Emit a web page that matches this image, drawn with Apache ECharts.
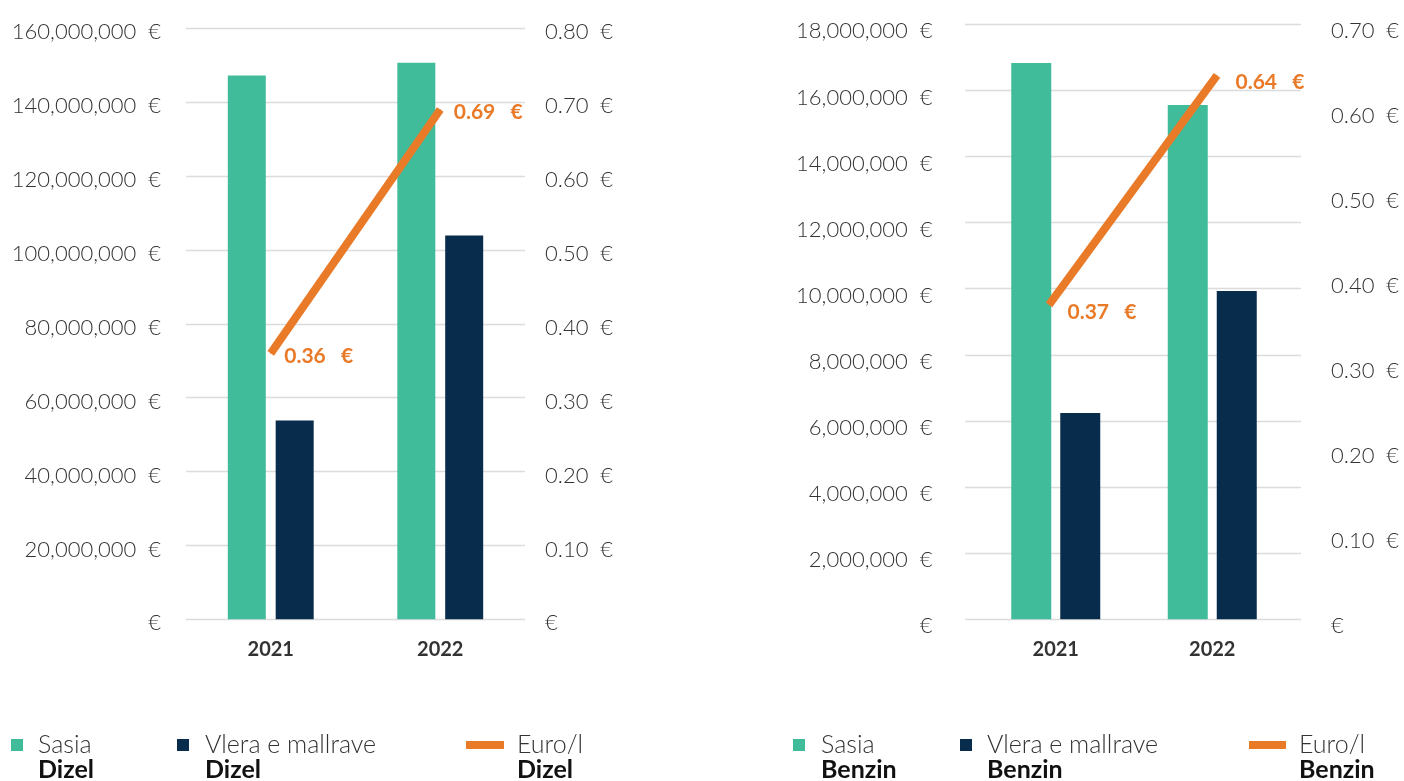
<!DOCTYPE html>
<html>
<head>
<meta charset="utf-8">
<script src="https://cdn.jsdelivr.net/npm/echarts@6/dist/echarts.min.js"></script>
<style>
html,body{margin:0;padding:0;background:#fff;}
#chart{width:1404px;height:781px;}
</style>
</head>
<body>
<div id="chart"></div>
<script>
// ---- data ----
const categories = ['2021', '2022'];
const dizelSasia = [147200000, 150700000];
const dizelVlera = [53800000, 103900000];
const dizelEuroL = [0.36, 0.69];
const benzinSasia = [16830000, 15560000];
const benzinVlera = [6240000, 9930000];
const benzinEuroL = [0.37, 0.64];
const dizelAmountAxis = { min: 0, max: 160000000, interval: 20000000 };
const dizelPriceAxis = { min: 0, max: 0.8, interval: 0.1 };
const benzinAmountAxis = { min: 0, max: 18000000, interval: 2000000 };
const benzinPriceAxis = { min: 0, max: 0.7, interval: 0.1 };
const seriesNames = ['Sasia', 'Vlera e mallrave', 'Euro/l'];
const fuels = ['Dizel', 'Benzin'];

// ---- style ----
const GREEN = '#40BC9B';
const NAVY = '#082C4C';
const ORANGE = '#E97A28';
const TEXT = '#333333';
const GRID = '#dcdcdc';
const FONT = 'Lato';

const amountFmt = v => v === 0 ? '€' : v.toLocaleString('en-US') + '  €';
const priceFmt = v => v === 0 ? '€' : v.toFixed(2) + '  €';

const yLabel = (fmt, margin, lh) => ({
  show: true, formatter: fmt, margin: margin, fontFamily: FONT, fontWeight: 300,
  fontSize: 22, color: TEXT, verticalAlign: 'top', lineHeight: lh
});
const xLabel = { fontFamily: FONT, fontWeight: 'bold', fontSize: 20, color: TEXT, margin: 20 };

function legend(name, fuel, left, w, h, pad) {
  return {
    left: left, top: 732.5, padding: 0, icon: 'rect', itemWidth: w, itemHeight: h,
    selectedMode: false, data: [name + ' ' + fuel],
    formatter: n => '{a|' + n.slice(0, n.lastIndexOf(' ')) + '}\n{b|' + n.slice(n.lastIndexOf(' ') + 1) + '}',
    textStyle: {
      padding: [25, 0, 0, pad], fontFamily: FONT, fontSize: 25, color: TEXT,
      rich: {
        a: { fontFamily: FONT, fontWeight: 300, fontSize: 25, lineHeight: 25, color: TEXT },
        b: { fontFamily: FONT, fontWeight: 'bold', fontSize: 25, lineHeight: 25, color: '#111' }
      }
    }
  };
}

const lineLabel = (dist, off) => ({
  show: true, position: 'right', distance: dist, offset: [0, off],
  formatter: p => p.value.toFixed(2) + '   €',
  fontFamily: FONT, fontWeight: 'bold', fontSize: 21, color: ORANGE
});

const option = {
  animation: false,
  backgroundColor: '#fff',
  grid: [
    { left: 186, top: 28.3, width: 339, height: 591 },
    { left: 977.5, top: 24.3, width: 313, height: 595 },
    { left: 965, top: 24.3, width: 336, height: 595 }
  ],
  xAxis: [
    { type: 'category', gridIndex: 0, data: categories, axisLine: { show: false }, axisTick: { show: false }, axisLabel: xLabel },
    { type: 'category', gridIndex: 1, data: categories, axisLine: { show: false }, axisTick: { show: false }, axisLabel: xLabel },
    { type: 'category', gridIndex: 2, data: categories, show: false }
  ],
  yAxis: [
    { type: 'value', gridIndex: 0, position: 'left', ...dizelAmountAxis, axisLine: { show: false }, axisTick: { show: false },
      splitLine: { show: true, lineStyle: { color: GRID, width: 1.3 } }, axisLabel: yLabel(amountFmt, 25, 8) },
    { type: 'value', gridIndex: 0, position: 'right', ...dizelPriceAxis, axisLine: { show: false }, axisTick: { show: false },
      splitLine: { show: false }, axisLabel: yLabel(priceFmt, 20, 8) },
    { type: 'value', gridIndex: 1, position: 'left', ...benzinAmountAxis, axisLine: { show: false }, axisTick: { show: false },
      splitLine: { show: false }, axisLabel: yLabel(amountFmt, 45, 14) },
    { type: 'value', gridIndex: 2, position: 'right', ...benzinPriceAxis, axisLine: { show: false }, axisTick: { show: false },
      splitLine: { show: false }, axisLabel: yLabel(priceFmt, 30, 14) },
    { type: 'value', gridIndex: 2, position: 'left', ...benzinAmountAxis, axisLine: { show: false }, axisTick: { show: false },
      splitLine: { show: true, lineStyle: { color: GRID, width: 1.3 } }, axisLabel: { show: false } }
  ],
  legend: [
    legend(seriesNames[0], fuels[0], 11, 12, 12, 10),
    legend(seriesNames[1], fuels[0], 177, 12, 12, 11),
    legend(seriesNames[2], fuels[0], 466, 38, 8, 8),
    legend(seriesNames[0], fuels[1], 793, 12, 12, 11),
    legend(seriesNames[1], fuels[1], 960, 12, 12, 10),
    legend(seriesNames[2], fuels[1], 1249, 37, 8, 8)
  ],
  series: [
    { name: seriesNames[0] + ' ' + fuels[0], type: 'bar', xAxisIndex: 0, yAxisIndex: 0, data: dizelSasia,
      barWidth: 38, barGap: '26%', itemStyle: { color: GREEN } },
    { name: seriesNames[1] + ' ' + fuels[0], type: 'bar', xAxisIndex: 0, yAxisIndex: 0, data: dizelVlera,
      barWidth: 38, barGap: '26%', itemStyle: { color: NAVY } },
    { name: seriesNames[2] + ' ' + fuels[0], type: 'line', xAxisIndex: 0, yAxisIndex: 1, data: dizelEuroL,
      symbol: 'circle', symbolSize: 1, itemStyle: { color: ORANGE }, lineStyle: { color: ORANGE, width: 8, cap: 'butt' },
      label: lineLabel(13, 3), z: 5 },
    { name: seriesNames[0] + ' ' + fuels[1], type: 'bar', xAxisIndex: 1, yAxisIndex: 2, data: benzinSasia,
      barWidth: 40, barGap: '22.5%', itemStyle: { color: GREEN } },
    { name: seriesNames[1] + ' ' + fuels[1], type: 'bar', xAxisIndex: 1, yAxisIndex: 2, data: benzinVlera,
      barWidth: 40, barGap: '22.5%', itemStyle: { color: NAVY } },
    { name: seriesNames[2] + ' ' + fuels[1], type: 'line', xAxisIndex: 2, yAxisIndex: 3, data: benzinEuroL,
      symbol: 'circle', symbolSize: 1, itemStyle: { color: ORANGE }, lineStyle: { color: ORANGE, width: 8, cap: 'butt' },
      label: lineLabel(18, 7), z: 5 }
  ]
};

const chart = echarts.init(document.getElementById('chart'), null, { renderer: 'canvas' });
chart.setOption(option);
</script>
</body>
</html>
